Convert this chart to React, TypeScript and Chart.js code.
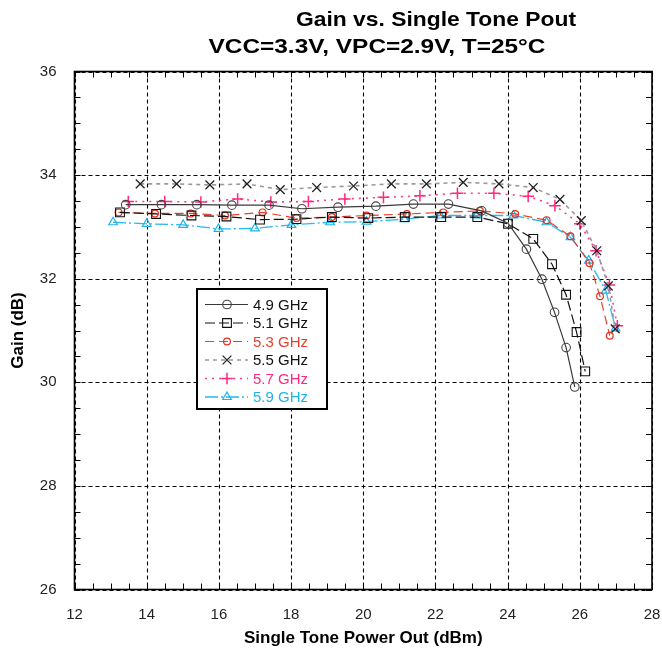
import { useEffect, useRef } from 'react';
import { Chart, registerables } from 'chart.js';

Chart.register(...registerables);

const titleLine1 = 'Gain vs. Single Tone Pout';
const titleLine2 = 'VCC=3.3V, VPC=2.9V, T=25°C';
const xAxisTitle = 'Single Tone Power Out (dBm)';
const yAxisTitle = 'Gain (dB)';

const xTicks = [12, 14, 16, 18, 20, 22, 24, 26, 28];
const yTicks = [26, 28, 30, 32, 34, 36];

const seriesLabels = ['4.9 GHz', '5.1 GHz', '5.3 GHz', '5.5 GHz', '5.7 GHz', '5.9 GHz'];

const pout49 = [13.42, 14.41, 15.39, 16.36, 17.39, 18.30, 19.30, 20.35, 21.39, 22.36, 23.28, 24.01, 24.52, 24.95, 25.30, 25.62, 25.86];
const gain49 = [33.43, 33.43, 33.43, 33.42, 33.42, 33.35, 33.38, 33.40, 33.44, 33.44, 33.31, 33.07, 32.57, 31.99, 31.35, 30.67, 29.91];

const pout51 = [13.26, 14.26, 15.24, 16.21, 17.14, 18.15, 19.13, 20.14, 21.15, 22.16, 23.16, 24.01, 24.71, 25.23, 25.62, 25.91, 26.15];
const gain51 = [33.28, 33.25, 33.22, 33.20, 33.14, 33.15, 33.19, 33.17, 33.19, 33.19, 33.19, 33.06, 32.77, 32.28, 31.69, 30.97, 30.21];

const pout53 = [13.22, 14.23, 15.22, 16.17, 17.21, 18.15, 19.13, 20.09, 21.21, 22.22, 23.23, 24.21, 25.08, 25.74, 26.27, 26.56, 26.83];
const gain53 = [33.28, 33.26, 33.26, 33.22, 33.28, 33.17, 33.19, 33.22, 33.25, 33.28, 33.31, 33.25, 33.13, 32.82, 32.30, 31.66, 30.90];

const pout55 = [13.82, 14.83, 15.75, 16.78, 17.70, 18.71, 19.73, 20.78, 21.75, 22.77, 23.76, 24.71, 25.45, 26.04, 26.47, 26.79, 26.98];
const gain55 = [33.83, 33.83, 33.81, 33.83, 33.72, 33.76, 33.79, 33.83, 33.83, 33.86, 33.83, 33.76, 33.53, 33.12, 32.54, 31.86, 31.03];

const pout57 = [13.49, 14.50, 15.50, 16.52, 17.44, 18.48, 19.49, 20.56, 21.57, 22.61, 23.62, 24.57, 25.31, 26.00, 26.45, 26.82, 27.04];
const gain57 = [33.49, 33.49, 33.48, 33.54, 33.48, 33.49, 33.54, 33.57, 33.60, 33.65, 33.65, 33.59, 33.41, 33.06, 32.54, 31.88, 31.09];

const pout59 = [13.07, 14.00, 15.01, 15.99, 17.00, 18.01, 19.08, 20.09, 21.14, 22.13, 23.14, 24.16, 25.08, 25.74, 26.25, 26.72, 26.99];
const gain59 = [33.09, 33.06, 33.04, 32.96, 32.97, 33.04, 33.09, 33.10, 33.15, 33.22, 33.22, 33.22, 33.09, 32.80, 32.35, 31.77, 31.04];

const FONT = "'Liberation Sans', Arial, Helvetica, sans-serif";

type Style = {
  line: string;
  marker: string;
  text: string;
  dash: number[];
  width: number;
  point: string;
  radius: number;
  pointWidth: number;
};

const styles: Style[] = [
  { line: '#3a3a3a', marker: '#444444', text: '#111111', dash: [], width: 1.2, point: 'circle', radius: 4.3, pointWidth: 1.1 },
  { line: '#111111', marker: '#111111', text: '#111111', dash: [10, 4], width: 1.2, point: 'rect', radius: 6.2, pointWidth: 1.1 },
  { line: '#e8402e', marker: '#e33020', text: '#e8402e', dash: [9, 5], width: 1.2, point: 'circle', radius: 3.4, pointWidth: 1.2 },
  { line: '#9a9a9a', marker: '#222222', text: '#111111', dash: [4, 4], width: 1.6, point: 'crossRot', radius: 6.2, pointWidth: 1.3 },
  { line: '#ff3c8c', marker: '#ff2a7f', text: '#ff2a7f', dash: [2, 5], width: 1.6, point: 'cross', radius: 5.8, pointWidth: 1.5 },
  { line: '#25b9ef', marker: '#1fb3ec', text: '#1fb3ec', dash: [13, 3, 2, 3], width: 1.3, point: 'triangle', radius: 5.0, pointWidth: 1.2 },
];

const seriesX = [pout49, pout51, pout53, pout55, pout57, pout59];
const seriesY = [gain49, gain51, gain53, gain55, gain57, gain59];

function markerPath(ctx: CanvasRenderingContext2D, style: string, x: number, y: number, r: number) {
  ctx.beginPath();
  if (style === 'circle') {
    ctx.arc(x, y, r, 0, Math.PI * 2);
  } else if (style === 'rect') {
    const s = r * Math.SQRT1_2;
    ctx.rect(x - s, y - s, 2 * s, 2 * s);
  } else if (style === 'triangle') {
    let a = 0;
    ctx.moveTo(x + Math.sin(a) * r, y - Math.cos(a) * r);
    a += (2 * Math.PI) / 3;
    ctx.lineTo(x + Math.sin(a) * r, y - Math.cos(a) * r);
    a += (2 * Math.PI) / 3;
    ctx.lineTo(x + Math.sin(a) * r, y - Math.cos(a) * r);
    ctx.closePath();
  } else if (style === 'cross') {
    ctx.moveTo(x, y - r);
    ctx.lineTo(x, y + r);
    ctx.moveTo(x - r, y);
    ctx.lineTo(x + r, y);
  } else if (style === 'crossRot') {
    const o = r * Math.SQRT1_2;
    ctx.moveTo(x - o, y - o);
    ctx.lineTo(x + o, y + o);
    ctx.moveTo(x + o, y - o);
    ctx.lineTo(x - o, y + o);
  }
  ctx.stroke();
}

const framePlugin = {
  id: 'frameGrid',
  beforeDatasetsDraw(chart: any) {
    const { ctx, chartArea: a, scales } = chart;
    const x = scales.x;
    const y = scales.y;
    ctx.save();
    ctx.strokeStyle = '#000';
    ctx.lineWidth = 1.1;
    ctx.setLineDash([4, 3]);
    xTicks.forEach((v) => {
      const px = Math.round(x.getPixelForValue(v)) + 0.5;
      ctx.beginPath();
      ctx.moveTo(px, a.top);
      ctx.lineTo(px, a.bottom);
      ctx.stroke();
    });
    yTicks.forEach((v) => {
      const py = Math.round(y.getPixelForValue(v)) + 0.5;
      ctx.beginPath();
      ctx.moveTo(a.left, py);
      ctx.lineTo(a.right, py);
      ctx.stroke();
    });
    ctx.setLineDash([]);
    ctx.lineWidth = 1;
    const xMin = xTicks[0];
    const xMax = xTicks[xTicks.length - 1];
    const yMin = yTicks[0];
    const yMax = yTicks[yTicks.length - 1];
    for (let v = xMin; v <= xMax + 1e-9; v += 0.5) {
      const px = Math.round(x.getPixelForValue(v)) + 0.5;
      ctx.beginPath();
      ctx.moveTo(px, a.bottom);
      ctx.lineTo(px, a.bottom - 6);
      ctx.moveTo(px, a.top);
      ctx.lineTo(px, a.top + 6);
      ctx.stroke();
    }
    for (let v = yMin; v <= yMax + 1e-9; v += 0.5) {
      const py = Math.round(y.getPixelForValue(v)) + 0.5;
      ctx.beginPath();
      ctx.moveTo(a.left, py);
      ctx.lineTo(a.left + 6, py);
      ctx.moveTo(a.right, py);
      ctx.lineTo(a.right - 6, py);
      ctx.stroke();
    }
    ctx.lineWidth = 1.6;
    ctx.strokeRect(a.left, a.top, a.right - a.left, a.bottom - a.top);
    ctx.restore();
  },
};

const legendPlugin = {
  id: 'boxLegend',
  afterDatasetsDraw(chart: any) {
    const { ctx } = chart;
    const bx = 197;
    const by = 289;
    const bw = 130;
    const bh = 120;
    ctx.save();
    ctx.fillStyle = '#fff';
    ctx.fillRect(bx, by, bw, bh);
    ctx.strokeStyle = '#000';
    ctx.lineWidth = 2;
    ctx.strokeRect(bx, by, bw, bh);
    ctx.font = `15px ${FONT}`;
    ctx.textBaseline = 'middle';
    ctx.textAlign = 'left';
    seriesLabels.forEach((label, i) => {
      const s = styles[i];
      const ry = by + 15.5 + i * 18.5;
      ctx.strokeStyle = s.line;
      ctx.lineWidth = s.width;
      ctx.setLineDash(s.dash);
      ctx.beginPath();
      ctx.moveTo(205, ry);
      ctx.lineTo(248, ry);
      ctx.stroke();
      ctx.setLineDash([]);
      ctx.strokeStyle = s.marker;
      ctx.lineWidth = s.pointWidth;
      markerPath(ctx, s.point, 227, ry, s.radius);
      ctx.fillStyle = s.text;
      ctx.fillText(label, 253, ry + 1);
    });
    ctx.restore();
  },
};

function fitText(ctx: CanvasRenderingContext2D, text: string, cx: number, cy: number, targetW: number) {
  const w = ctx.measureText(text).width;
  ctx.save();
  ctx.translate(cx, cy);
  ctx.scale(targetW / w, 1);
  ctx.fillText(text, 0, 0);
  ctx.restore();
}

const titlePlugin = {
  id: 'twoLineTitle',
  afterDraw(chart: any) {
    const { ctx } = chart;
    ctx.save();
    ctx.fillStyle = '#000';
    ctx.font = `bold 21px ${FONT}`;
    ctx.textAlign = 'center';
    ctx.textBaseline = 'middle';
    fitText(ctx, titleLine1, 436, 20, 280);
    fitText(ctx, titleLine2, 377, 47, 337);
    ctx.restore();
  },
};

export default function App() {
  const ref = useRef<HTMLCanvasElement | null>(null);

  useEffect(() => {
    if (!ref.current) return;
    Chart.defaults.font.family = FONT;
    const datasets = seriesLabels.map((label, i) => {
      const s = styles[i];
      return {
        label,
        data: seriesX[i].map((xv, j) => ({ x: xv, y: seriesY[i][j] })),
        showLine: true,
        borderColor: s.line,
        borderWidth: s.width,
        borderDash: s.dash,
        backgroundColor: 'rgba(0,0,0,0)',
        pointStyle: s.point,
        pointRadius: s.radius,
        pointBorderColor: s.marker,
        pointBorderWidth: s.pointWidth,
        pointBackgroundColor: 'rgba(0,0,0,0)',
        tension: 0,
        fill: false,
      };
    });
    const chart = new Chart(ref.current, {
      type: 'scatter',
      data: { datasets },
      options: {
        responsive: false,
        animation: false,
        devicePixelRatio: 1,
        layout: { padding: { left: 0, right: 10, top: 71.5, bottom: 0 } },
        plugins: {
          legend: { display: false },
          tooltip: { enabled: false },
          title: { display: false },
        },
        scales: {
          x: {
            type: 'linear',
            min: xTicks[0],
            max: xTicks[xTicks.length - 1],
            afterBuildTicks: (s: any) => {
              s.ticks = xTicks.map((v) => ({ value: v }));
            },
            afterFit: (s: any) => {
              s.height = 71.5;
              s.paddingLeft = 0;
              s.paddingRight = 0;
            },
            grid: { display: false },
            border: { display: false },
            ticks: {
              color: '#222',
              font: { size: 15 },
              padding: 8,
              maxRotation: 0,
              autoSkip: false,
            },
            title: {
              display: true,
              text: xAxisTitle,
              color: '#000',
              font: { size: 17, weight: 'bold' },
              padding: { top: 0, bottom: 12 },
            },
          },
          y: {
            type: 'linear',
            min: yTicks[0],
            max: yTicks[yTicks.length - 1],
            afterBuildTicks: (s: any) => {
              s.ticks = yTicks.map((v) => ({ value: v }));
            },
            afterFit: (s: any) => {
              s.width = 74.5;
              s.paddingTop = 0;
              s.paddingBottom = 0;
            },
            grid: { display: false },
            border: { display: false },
            ticks: {
              color: '#222',
              font: { size: 15 },
              padding: 10,
              autoSkip: false,
            },
            title: {
              display: true,
              text: yAxisTitle,
              color: '#000',
              font: { size: 17, weight: 'bold' },
              padding: { top: 8, bottom: 0 },
            },
          },
        },
      },
      plugins: [framePlugin, legendPlugin, titlePlugin],
    } as any);
    return () => chart.destroy();
  }, []);

  return (
    <div style={{ position: 'fixed', left: 0, top: 0, width: 662, height: 661, background: '#fff' }}>
      <canvas ref={ref} width={662} height={661} style={{ width: 662, height: 661, display: 'block' }} />
    </div>
  );
}
